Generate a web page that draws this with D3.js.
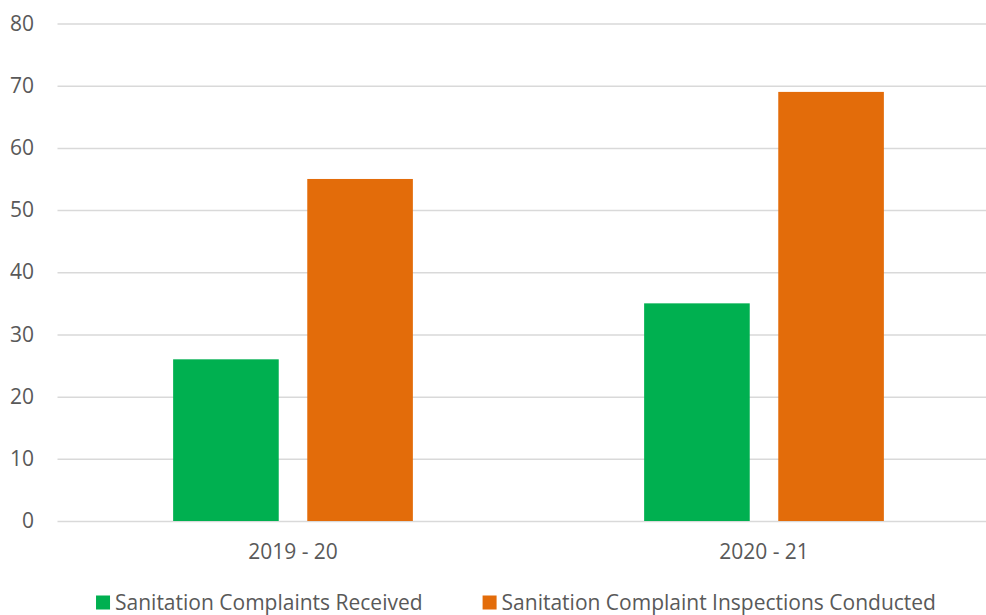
<!DOCTYPE html>
<html>
<head>
<meta charset="utf-8">
<script src="https://cdn.jsdelivr.net/npm/d3@7"></script>
<style>
  html, body { margin: 0; padding: 0; background: #fff; }
  svg { display: block; font-family: "Open Sans", sans-serif; }
</style>
</head>
<body>
<svg id="chart" width="986" height="615"></svg>
<script>
// Sanitation complaint figures per financial year
const categories = ["2019 - 20", "2020 - 21"];
const seriesNames = ["Sanitation Complaints Received", "Sanitation Complaint Inspections Conducted"];
const complaintsReceived = [26, 35];
const inspectionsConducted = [55, 69];
const yTicks = [0, 10, 20, 30, 40, 50, 60, 70, 80];
const colors = ["#00B050", "#E36C0A"];

const seriesValues = [complaintsReceived, inspectionsConducted];

const svg = d3.select("#chart");
const plot = { left: 57.5, right: 999.5, top: 23.5, bottom: 521 };
const textColor = "#595959";
const fontSize = "21px";

const x = d3.scaleBand().domain(categories).range([plot.left, plot.right]).paddingInner(0).paddingOuter(0);
const x1 = d3.scaleBand().domain(seriesNames).range([0, x.bandwidth()]).paddingInner(0.2127).paddingOuter(0.862);
const y = d3.scaleLinear().domain([0, 80]).range([plot.bottom, plot.top]);

// gridlines and value labels
const yAxis = d3.axisLeft(y).tickValues(yTicks).tickSize(-(plot.right - plot.left)).tickPadding(23.5);
const gy = svg.append("g").attr("transform", `translate(${plot.left},0)`).call(yAxis);
gy.select(".domain").remove();
gy.selectAll(".tick line").attr("stroke", "#D9D9D9").attr("stroke-width", 1.5);
gy.selectAll(".tick text").attr("fill", textColor).style("font-size", fontSize).style("font-family", "'Open Sans', sans-serif");

// bars
const groups = svg.append("g").selectAll("g").data(categories).join("g")
  .attr("transform", d => `translate(${x(d)},0)`);
groups.selectAll("rect")
  .data((d, i) => seriesNames.map((s, j) => ({ s, v: seriesValues[j][i], c: colors[j] })))
  .join("rect")
  .attr("x", d => x1(d.s))
  .attr("width", x1.bandwidth())
  .attr("y", d => y(d.v))
  .attr("height", d => y(0) - y(d.v))
  .attr("fill", d => d.c);

// category labels
const xAxis = d3.axisBottom(x).tickSize(0).tickPadding(23);
const gx = svg.append("g").attr("transform", `translate(0,${plot.bottom})`).call(xAxis);
gx.select(".domain").remove();
gx.selectAll(".tick text").attr("fill", textColor).style("font-size", fontSize).style("font-family", "'Open Sans', sans-serif");

// legend
const legend = svg.append("g");
const items = legend.selectAll("g").data(seriesNames).join("g");
items.append("rect").attr("width", 14).attr("height", 14).attr("y", -14.5).attr("fill", (d, i) => colors[i]);
items.append("text").attr("x", 19).attr("y", 0).attr("fill", textColor)
  .style("font-size", fontSize).style("font-family", "'Open Sans', sans-serif").text(d => d);
const widths = [];
items.each(function () { widths.push(this.getBBox().width); });
const gap = 60;
const total = widths[0] + widths[1] + gap;
const startX = (98 + 934) / 2 - total / 2;
items.attr("transform", (d, i) => `translate(${i === 0 ? startX : startX + widths[0] + gap},610)`);
</script>
</body>
</html>
